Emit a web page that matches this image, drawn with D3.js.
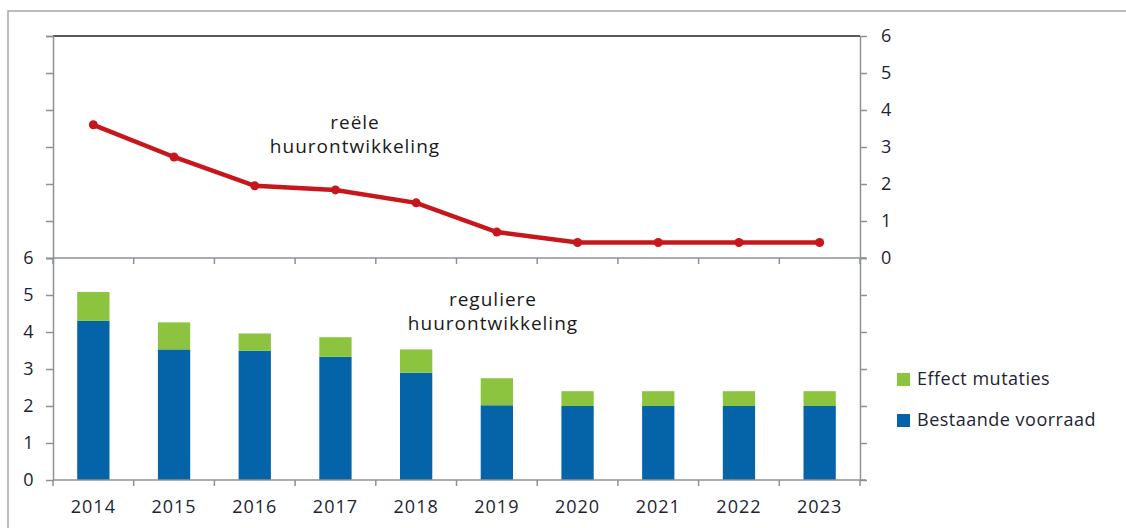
<!DOCTYPE html>
<html lang="nl">
<head>
<meta charset="utf-8">
<title>Huurontwikkeling 2014-2023</title>
<script src="https://d3js.org/d3.v7.min.js"></script>
<style>
body { margin: 0; background: #fff; font-family: "Open Sans", sans-serif; }
.axis path, .axis line { stroke: #8c9196; stroke-width: 1.5; }
.axis text { font-family: "Open Sans", sans-serif; font-size: 18px; fill: #1c2433; letter-spacing: 0.5px; }
</style>
</head>
<body>
<div id="vis"></div>
<script>

/* Data */
var years = ['2014', '2015', '2016', '2017', '2018', '2019', '2020', '2021', '2022', '2023'];
var reeleHuur = [3.6, 2.73, 1.95, 1.84, 1.49, 0.7, 0.42, 0.42, 0.42, 0.42];
var bestaandeVoorraad = [4.3, 3.53, 3.49, 3.33, 2.9, 2.02, 2.0, 2.0, 2.0, 2.0];
var effectMutaties = [0.78, 0.73, 0.47, 0.53, 0.63, 0.73, 0.4, 0.4, 0.4, 0.4];
var yTicks = [0, 1, 2, 3, 4, 5, 6];
var legendLabels = ['Effect mutaties', 'Bestaande voorraad'];

var colors = { line: '#c8161d', blue: '#0563a8', green: '#8cc43f' };

/* SVG */
var width = 1126, height = 528;
var left = 53, right = 860, topY = 36, midY = 258, bottomY = 480;

var svg = d3.select('#vis').append('svg')
	.attr('width', width)
	.attr('height', height);

// outer frame of the embedded chart
svg.append('rect')
	.attr('x', 8).attr('y', 11)
	.attr('width', width).attr('height', height)
	.attr('fill', 'none')
	.attr('stroke', '#a6a6a6')
	.attr('stroke-width', 1.5);

/* Scales */
var x = d3.scaleBand().domain(years).range([left, right]).paddingInner(0.6).paddingOuter(0.3);
var xBand = d3.scaleBand().domain(years).range([left, right]);
var yTop = d3.scaleLinear().domain([0, 6]).range([midY, topY]);
var yBot = d3.scaleLinear().domain([0, 6]).range([bottomY, midY]);

/* Upper panel: line */
svg.append('line')
	.attr('x1', left).attr('x2', right)
	.attr('y1', topY).attr('y2', topY)
	.attr('stroke', '#222').attr('stroke-width', 1.5);

svg.append('g').attr('class', 'axis')
	.attr('transform', 'translate(' + left + ',0)')
	.call(d3.axisLeft(yTop).tickValues(yTicks).tickSize(7).tickFormat(''));

svg.append('g').attr('class', 'axis')
	.attr('transform', 'translate(' + right + ',0)')
	.call(d3.axisRight(yTop).tickValues(yTicks).tickFormat(d3.format('d')).tickSize(7).tickPadding(14).tickSizeOuter(0));

function drawCategoryAxis(y0, withLabels) {
	var g = svg.append('g').attr('class', 'axis');
	g.append('line')
		.attr('x1', left).attr('x2', right + 6)
		.attr('y1', y0).attr('y2', y0);
	g.selectAll('.tick-b')
		.data(years.concat(['end']))
		.enter().append('line')
			.attr('x1', function(d) { return d === 'end' ? right : xBand(d); })
			.attr('x2', function(d) { return d === 'end' ? right : xBand(d); })
			.attr('y1', y0).attr('y2', y0 + 6);
	if (withLabels) {
		g.selectAll('.lbl')
			.data(years)
			.enter().append('text')
				.attr('x', function(d) { return xBand(d) + xBand.bandwidth() / 2; })
				.attr('y', y0 + 33)
				.attr('text-anchor', 'middle')
				.style('letter-spacing', '1px')
				.text(function(d) { return d; });
	}
}

drawCategoryAxis(midY, false);

var line = d3.line()
	.x(function(d, i) { return xBand(years[i]) + xBand.bandwidth() / 2; })
	.y(function(d) { return yTop(d); });

svg.append('path')
	.datum(reeleHuur)
	.attr('d', line)
	.attr('fill', 'none')
	.attr('stroke', colors.line)
	.attr('stroke-width', 4.5);

svg.append('g').selectAll('circle')
	.data(reeleHuur)
	.enter().append('circle')
		.attr('cx', function(d, i) { return xBand(years[i]) + xBand.bandwidth() / 2; })
		.attr('cy', function(d) { return yTop(d); })
		.attr('r', 4.5)
		.attr('fill', colors.line);

/* Lower panel: stacked bars */
svg.append('g').attr('class', 'axis')
	.attr('transform', 'translate(' + left + ',0)')
	.call(d3.axisLeft(yBot).tickValues(yTicks).tickFormat(d3.format('d')).tickSize(7).tickPadding(12).tickSizeOuter(0));

svg.append('g').attr('class', 'axis')
	.attr('transform', 'translate(' + right + ',0)')
	.call(d3.axisRight(yBot).tickValues(yTicks).tickSize(7).tickFormat('').tickSizeOuter(0));

var bars = svg.append('g');
bars.selectAll('.blue')
	.data(bestaandeVoorraad)
	.enter().append('rect')
		.attr('x', function(d, i) { return x(years[i]); })
		.attr('width', x.bandwidth())
		.attr('y', function(d) { return yBot(d); })
		.attr('height', function(d) { return yBot(0) - yBot(d); })
		.attr('fill', colors.blue);

bars.selectAll('.green')
	.data(effectMutaties)
	.enter().append('rect')
		.attr('x', function(d, i) { return x(years[i]); })
		.attr('width', x.bandwidth())
		.attr('y', function(d, i) { return yBot(bestaandeVoorraad[i] + d); })
		.attr('height', function(d, i) { return yBot(bestaandeVoorraad[i]) - yBot(bestaandeVoorraad[i] + d); })
		.attr('fill', colors.green);

drawCategoryAxis(bottomY, true);

/* Annotations */
function label(lines, cx, cy) {
	var t = svg.append('text')
		.attr('text-anchor', 'middle')
		.style('font-family', '"Open Sans", sans-serif')
		.style('font-size', '19px')
		.style('letter-spacing', '1px')
		.style('fill', '#1a1a1a');
	lines.forEach(function(s, i) {
		t.append('tspan').attr('x', cx).attr('y', cy + i * 24).text(s);
	});
}
label(['reële', 'huurontwikkeling'], 355, 129);
label(['reguliere', 'huurontwikkeling'], 493, 306);

/* Legend */
var legend = svg.append('g').attr('transform', 'translate(897, 373)');
legend.selectAll('rect')
	.data(legendLabels)
	.enter().append('rect')
		.attr('x', 0)
		.attr('y', function(d, i) { return i * 41; })
		.attr('width', 13).attr('height', 13)
		.attr('fill', function(d, i) { return i === 0 ? colors.green : colors.blue; });
legend.selectAll('text')
	.data(legendLabels)
	.enter().append('text')
		.attr('x', 20)
		.attr('y', function(d, i) { return i * 41 + 12; })
		.style('font-family', '"Open Sans", sans-serif')
		.style('font-size', '18px')
		.style('letter-spacing', '0.5px')
		.style('fill', '#1c2433')
		.text(function(d) { return d; });

</script>
</body>
</html>
